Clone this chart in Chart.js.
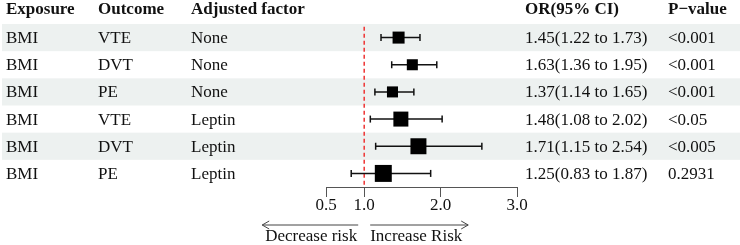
<!DOCTYPE html>
<html>
<head>
<meta charset="utf-8">
<script src="https://cdn.jsdelivr.net/npm/chart.js@4"></script>
<style>
  html, body { margin: 0; padding: 0; background: #fff; }
  #wrap { width: 740px; height: 245px; position: relative; }
</style>
</head>
<body>
<div id="wrap"><canvas id="forest"></canvas></div>
<script>
const exposure = ['BMI', 'BMI', 'BMI', 'BMI', 'BMI', 'BMI'];
const outcome = ['VTE', 'DVT', 'PE', 'VTE', 'DVT', 'PE'];
const adjusted = ['None', 'None', 'None', 'Leptin', 'Leptin', 'Leptin'];
const orValue = [1.45, 1.63, 1.37, 1.48, 1.71, 1.25];
const ciLower = [1.22, 1.36, 1.14, 1.08, 1.15, 0.83];
const ciUpper = [1.73, 1.95, 1.65, 2.02, 2.54, 1.87];
const pValue = ['<0.001', '<0.001', '<0.001', '<0.05', '<0.005', '0.2931'];
const xTicks = [0.5, 1.0, 2.0, 3.0];

// box size per row (pixels of point radius)
const boxRadius = [8.5, 7.8, 7.8, 10.6, 11.3, 12];

const FONT = '"Liberation Serif", "Times New Roman", serif';
const rows = orValue.map((_, i) => i + 1);

// table text, row bands and risk arrows
const tablePlugin = {
  id: 'table',
  beforeDatasetsDraw(chart) {
    const { ctx, scales: { y } } = chart;
    ctx.save();
    ctx.fillStyle = '#edf1f0';
    rows.forEach((r) => {
      if (r % 2 === 1) {
        const top = y.getPixelForValue(r - 0.5);
        const bot = y.getPixelForValue(r + 0.5);
        ctx.fillRect(2, top, 738, bot - top);
      }
    });
    ctx.restore();
  },
  afterDraw(chart) {
    const { ctx, scales: { x, y } } = chart;
    ctx.save();
    ctx.fillStyle = '#111';
    ctx.textBaseline = 'middle';
    ctx.textAlign = 'left';

    ctx.font = 'bold 17px ' + FONT;
    const hy = 10;
    ctx.fillText('Exposure', 6, hy);
    ctx.fillText('Outcome', 98, hy);
    ctx.fillText('Adjusted factor', 191, hy);
    ctx.fillText('OR(95% CI)', 525, hy);
    ctx.fillText('P\u2212value', 668, hy);

    ctx.font = '17px ' + FONT;
    rows.forEach((r, i) => {
      const py = y.getPixelForValue(r) + 1;
      ctx.fillText(exposure[i], 6, py);
      ctx.fillText(outcome[i], 98, py);
      ctx.fillText(adjusted[i], 191, py);
      ctx.fillText(`${orValue[i].toFixed(2)}(${ciLower[i].toFixed(2)} to ${ciUpper[i].toFixed(2)})`, 525, py);
      ctx.fillText(pValue[i], 668, py);
    });

    // risk arrows under the axis
    const x1 = x.getPixelForValue(1);
    const ay = 225;
    ctx.strokeStyle = '#444';
    ctx.lineWidth = 1;
    ctx.beginPath();
    ctx.moveTo(x1 - 6, ay); ctx.lineTo(x1 - 102, ay);
    ctx.moveTo(x1 - 95, ay - 4); ctx.lineTo(x1 - 102, ay); ctx.lineTo(x1 - 95, ay + 4);
    ctx.moveTo(x1 + 6, ay); ctx.lineTo(x1 + 104, ay);
    ctx.moveTo(x1 + 97, ay - 4); ctx.lineTo(x1 + 104, ay); ctx.lineTo(x1 + 97, ay + 4);
    ctx.stroke();

    ctx.fillStyle = '#111';
    ctx.textAlign = 'right';
    ctx.fillText('Decrease risk', x1 - 7, 237);
    ctx.textAlign = 'left';
    ctx.fillText('Increase Risk', x1 + 6, 237);
    ctx.restore();
  }
};

const whiskers = rows.map((r, i) => ({
  type: 'line',
  data: [{ x: ciLower[i], y: r }, { x: ciUpper[i], y: r }],
  borderColor: '#111',
  borderWidth: 1.5,
  pointRadius: 0,
  order: 3
}));

new Chart(document.getElementById('forest'), {
  type: 'scatter',
  data: {
    datasets: [
      {
        data: rows.map((r, i) => ({ x: orValue[i], y: r })),
        pointStyle: 'rect',
        pointRadius: boxRadius,
        pointHoverRadius: boxRadius,
        backgroundColor: '#000',
        borderWidth: 0,
        order: 1
      },
      {
        data: rows.flatMap((r, i) => [{ x: ciLower[i], y: r }, { x: ciUpper[i], y: r }]),
        pointStyle: 'line',
        rotation: 90,
        pointRadius: 3.5,
        borderColor: '#111',
        borderWidth: 1.5,
        order: 2
      },
      ...whiskers,
      {
        type: 'line',
        data: [{ x: 1, y: 0.6 }, { x: 1, y: 6.5 }],
        borderColor: '#ee3333',
        borderWidth: 1.5,
        borderDash: [4, 3],
        pointRadius: 0,
        order: 4
      }
    ]
  },
  options: {
    responsive: true,
    maintainAspectRatio: false,
    animation: false,
    events: [],
    layout: { padding: { left: 326, right: 223, top: 24, bottom: 0 } },
    plugins: { legend: { display: false }, tooltip: { enabled: false } },
    scales: {
      x: {
        type: 'linear',
        min: 0.5,
        max: 3,
        afterBuildTicks: (scale) => { scale.ticks = xTicks.map((v) => ({ value: v })); },
        afterFit: (scale) => { scale.height = 58; },
        border: { display: true, color: '#555', width: 1 },
        grid: { drawOnChartArea: false, drawTicks: true, tickLength: 10, color: '#555' },
        ticks: {
          color: '#111',
          padding: -2,
          maxRotation: 0,
          font: { family: FONT, size: 17 },
          callback: (v) => Number(v).toFixed(1)
        }
      },
      y: {
        type: 'linear',
        display: false,
        reverse: true,
        min: 0.5,
        max: 6.5
      }
    }
  },
  plugins: [tablePlugin]
});
</script>
</body>
</html>
